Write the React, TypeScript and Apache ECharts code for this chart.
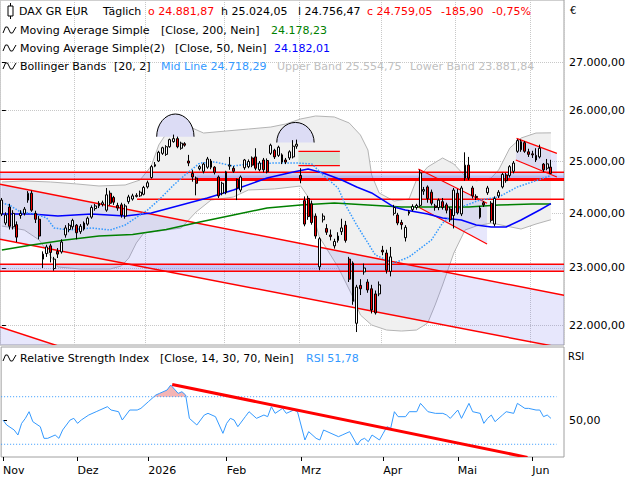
import React, { useEffect, useRef } from "react";
import * as echarts from "echarts";

// ---------- trading days (x categories) ----------
const NOV_2025 = [3, 4, 5, 6, 7, 10, 11, 12, 13, 14, 17, 18, 19, 20, 21, 24, 25, 26, 27, 28];
const DEC_2025 = [1, 2, 3, 4, 5, 8, 9, 10, 11, 12, 15, 16, 17, 18, 19, 22, 23, 29, 30];
const JAN_2026 = [2, 5, 6, 7, 8, 9, 12, 13, 14, 15, 16, 19, 20, 21, 22, 23, 26, 27, 28, 29, 30];
const FEB_2026 = [2, 3, 4, 5, 6, 9, 10, 11, 12, 13, 16, 17, 18, 19, 20, 23, 24, 25, 26, 27];
const MAR_2026 = [2, 3, 4, 5, 6, 9, 10, 11, 12, 13, 16, 17, 18, 19, 20, 23, 24, 25, 26, 27, 30, 31];
const APR_2026 = [1, 2, 7, 8, 9, 10, 13, 14, 15, 16, 17, 20, 21, 22, 23, 24, 27, 28, 29, 30];
const MAY_2026 = [4, 5, 6, 7, 8, 11, 12, 13, 14, 15, 18, 19, 20, 21, 22, 25, 26, 27, 28, 29];
const JUN_2026 = [1, 2, 3, 4, 5, 8, 9, 10, 11];
const MONTHS = [
  { y: 2025, m: 11, days: NOV_2025, label: "Nov" },
  { y: 2025, m: 12, days: DEC_2025, label: "Dez" },
  { y: 2026, m: 1, days: JAN_2026, label: "2026" },
  { y: 2026, m: 2, days: FEB_2026, label: "Feb" },
  { y: 2026, m: 3, days: MAR_2026, label: "Mrz" },
  { y: 2026, m: 4, days: APR_2026, label: "Apr" },
  { y: 2026, m: 5, days: MAY_2026, label: "Mai" },
  { y: 2026, m: 6, days: JUN_2026, label: "Jun" },
];

// ---------- daily candles [open, close, low, high] ----------
const OHLC: number[][] = [
  [23990, 24250, 23950, 24290], [23820, 23970, 23780, 24020], [24120, 23760, 23700, 24180], [23750, 24000, 23700, 24060],
  [23790, 23560, 23470, 23850], [23960, 24000, 23900, 24060], [24000, 24080, 23960, 24120], [24250, 24380, 24200, 24420],
  [24380, 24060, 24030, 24430], [24000, 23890, 23820, 24050], [23890, 23580, 23520, 23950], [23250, 23160, 23000, 23300],
  [23260, 23380, 23200, 23420], [23400, 23280, 23100, 23440], [22990, 23160, 22950, 23200], [23300, 23250, 23180, 23360],
  [23290, 23470, 23260, 23520], [23600, 23730, 23550, 23780], [23700, 23780, 23650, 23820], [23750, 23870, 23700, 23900],
  [23780, 23640, 23520, 23800], [23660, 23760, 23620, 23800], [23820, 23710, 23680, 23850], [23800, 23910, 23770, 23940],
  [23930, 24110, 23900, 24150], [24090, 24140, 24050, 24180], [24140, 24190, 24100, 24230], [24170, 24200, 24130, 24240],
  [24060, 24350, 24030, 24480], [24380, 24190, 24150, 24430], [24300, 24210, 24160, 24330], [24150, 24100, 24050, 24200],
  [24160, 23970, 23920, 24200], [23950, 24140, 23900, 24180], [24220, 24310, 24180, 24350], [24270, 24330, 24240, 24370],
  [24320, 24340, 24300, 24380], [24330, 24400, 24310, 24430], [24360, 24490, 24340, 24520], [24500, 24580, 24470, 24620],
  [24680, 24890, 24660, 24920], [24900, 24930, 24880, 24980], [25000, 25170, 24980, 25200], [25150, 25260, 25120, 25280],
  [25130, 25280, 25100, 25310], [25280, 25420, 25260, 25440], [25380, 25440, 25360, 25520], [25440, 25280, 25250, 25480],
  [25250, 25350, 25220, 25380], [25340, 25310, 25280, 25370], [25000, 24960, 24900, 25120], [24760, 24690, 24600, 24825],
  [24670, 24570, 24340, 24700], [24850, 24890, 24820, 24920], [24800, 24940, 24760, 24970], [24880, 25040, 24850, 25080],
  [25000, 24880, 24840, 25040], [24880, 24780, 24740, 24900], [24690, 24330, 24290, 24720], [24380, 24570, 24340, 24600],
  [24390, 24790, 24360, 24810], [24900, 24920, 24830, 25080], [24860, 24800, 24770, 24900], [24640, 24480, 24250, 24660],
  [24440, 24690, 24400, 24720], [24870, 25020, 24830, 25040], [24890, 24990, 24860, 25030], [25060, 24920, 24880, 25090],
  [25080, 24860, 24820, 25250], [24830, 24960, 24800, 25000], [25020, 24830, 24780, 25060], [25010, 24790, 24760, 25050],
  [25150, 25310, 25120, 25340], [25210, 25080, 25040, 25240], [25110, 25270, 25080, 25300], [25120, 24980, 24940, 25150],
  [25020, 24980, 24940, 25060], [25060, 25180, 25020, 25210], [25080, 25290, 25050, 25410], [25290, 25330, 25240, 25420],
  [24720, 24650, 24570, 24860], [24240, 23800, 23760, 24320], [24280, 23940, 23880, 24330], [24180, 23830, 23790, 24240],
  [23950, 23580, 23530, 24000], [23020, 23530, 22960, 23560], [23880, 23950, 23830, 24000], [23720, 23650, 23600, 23800],
  [23600, 23570, 23500, 23700], [23400, 23480, 23350, 23530], [23500, 23580, 23460, 23650], [23660, 23730, 23600, 23900],
  [23780, 23500, 23460, 23860], [23160, 22800, 22750, 23200], [23090, 22410, 22350, 23120], [22030, 22660, 21880, 22700],
  [22690, 22630, 22520, 22800], [22930, 23000, 22880, 23080], [22750, 22610, 22560, 22800], [22630, 22260, 22200, 22700],
  [22540, 22210, 22180, 22600], [22540, 22700, 22500, 22760], [23320, 23290, 23230, 23400], [23270, 22960, 22900, 23330],
  [22940, 23200, 22850, 23380], [24000, 24110, 23960, 24160], [23970, 23820, 23780, 24010], [23830, 23790, 23700, 23880],
  [23550, 23740, 23480, 23780], [24000, 24030, 23960, 24060], [24070, 24130, 24040, 24170], [24110, 24150, 24070, 24180],
  [24150, 24770, 24120, 24830], [24420, 24450, 24350, 24500], [24500, 24280, 24200, 24530], [24400, 24190, 24150, 24450],
  [24140, 24110, 24050, 24180], [24110, 24250, 24060, 24280], [24220, 24110, 24070, 24290], [24160, 24060, 24000, 24200],
  [24080, 23880, 23840, 24120], [23960, 24440, 23720, 24480], [24380, 24010, 23980, 24460], [23990, 24480, 23950, 24520],
  [24670, 24920, 24620, 25170], [24920, 24670, 24630, 25080], [24480, 24330, 24280, 24520], [24320, 24300, 24250, 24360],
  [24100, 23930, 23900, 24140], [24200, 24160, 24120, 24230], [24390, 24480, 24350, 24520], [24190, 23870, 23830, 24230],
  [23800, 24280, 23760, 24320], [24330, 24400, 24290, 24440], [24500, 24740, 24470, 24770], [24730, 24620, 24580, 24770],
  [24720, 24890, 24680, 24920], [24800, 24960, 24760, 25000], [25190, 25400, 25160, 25430], [25380, 25220, 25180, 25420],
  [25360, 25190, 25160, 25390], [25180, 25130, 25080, 25240], [25140, 25120, 25060, 25200], [25110, 25020, 24980, 25250],
  [25080, 25250, 25050, 25320], [24940, 24830, 24790, 24960], [24860, 24944.95, 24820, 25040], [24881.87, 24759.05, 24756.47, 25024.05],
];

// ---------- indicators [day index, value] ----------
const SMA200 = [[0, 23324], [8, 23416], [17, 23507], [26, 23581], [35, 23610], [44, 23700], [53, 23840], [62, 23970], [71, 24101], [80, 24157], [89, 24195], [98, 24157], [107, 24119], [116, 24119], [125, 24119], [133, 24157], [142, 24176], [147, 24178.23]];
const SMA50 = [[0, 23989], [8, 23989], [15, 23951], [24, 23989], [33, 23951], [40, 24007], [48, 24157], [55, 24289], [62, 24442], [71, 24671], [78, 24787], [82, 24845], [86, 24768], [91, 24633], [95, 24499], [99, 24385], [105, 24119], [108, 24063], [114, 23989], [118, 23914], [123, 23877], [127, 23783], [131, 23746], [135, 23746], [139, 23877], [144, 24063], [147, 24182.01]];
const BB_MID = [[0, 24195], [2, 24157], [5, 24026], [9, 23989], [12, 23914], [14, 23728], [18, 23691], [24, 23728], [29, 23691], [33, 23783], [39, 24063], [42, 24251], [46, 24537], [49, 24729], [53, 24961], [57, 24981], [62, 24903], [66, 24942], [73, 24961], [79, 24961], [83, 24942], [86, 24729], [90, 24480], [92, 24157], [95, 23783], [98, 23453], [100, 23234], [105, 23089], [109, 23198], [115, 23507], [118, 23821], [123, 24119], [128, 24251], [133, 24308], [138, 24499], [142, 24595], [147, 24718.29]];
const BB_UPPER = [[0, 24595], [6, 24614], [13, 24595], [20, 24557], [26, 24518], [33, 24537], [37, 24633], [40, 24903], [42, 25314], [45, 25651], [48, 25752], [51, 25651], [54, 25551], [60, 25591], [66, 25631], [72, 25671], [76, 25732], [80, 25833], [84, 25893], [89, 25873], [93, 25752], [96, 25512], [98, 25215], [99, 24729], [101, 24385], [105, 24232], [109, 24270], [111, 24633], [114, 24884], [118, 25059], [121, 24942], [124, 24710], [127, 24614], [131, 24671], [133, 24826], [136, 25255], [139, 25452], [143, 25551], [147, 25554.75]];
const BB_LOWER = [[0, 23765], [6, 23691], [10, 23507], [13, 23216], [15, 23018], [21, 22982], [29, 22982], [32, 23036], [34, 23180], [36, 23453], [38, 23636], [42, 23672], [48, 23728], [52, 24026], [56, 24251], [62, 24308], [66, 24442], [73, 24461], [80, 24518], [82, 24308], [85, 23562], [90, 23018], [94, 22486], [96, 22172], [99, 22000], [103, 21914], [107, 21897], [111, 21914], [114, 22034], [116, 22346], [118, 22697], [121, 23270], [124, 23691], [127, 23765], [131, 23821], [135, 23765], [139, 23709], [143, 23802], [147, 23881.84]];
const RSI14 = [[0, 50.4], [1, 46.2], [3, 42.0], [4, 37.8], [5, 47.6], [6, 51.8], [7, 57.4], [8, 49.0], [10, 44.8], [11, 35.0], [12, 35.0], [14, 37.8], [15, 35.0], [16, 42.0], [18, 50.4], [19, 51.8], [20, 47.6], [21, 50.4], [23, 54.6], [25, 57.4], [26, 58.8], [28, 61.6], [29, 58.8], [31, 57.4], [32, 50.4], [34, 58.8], [36, 58.8], [37, 60.2], [39, 65.8], [41, 71.4], [42, 72.8], [44, 75.6], [45, 79.8], [47, 72.8], [48, 74.2], [49, 71.4], [50, 51.8], [52, 46.2], [54, 54.6], [55, 56.0], [57, 53.2], [59, 39.2], [60, 47.6], [61, 51.8], [62, 50.4], [63, 44.8], [65, 53.2], [66, 57.4], [68, 51.8], [70, 54.6], [71, 53.2], [72, 61.6], [73, 56.0], [75, 60.2], [76, 56.0], [78, 58.8], [79, 57.4], [81, 33.6], [82, 40.6], [84, 35.0], [85, 33.6], [86, 42.0], [88, 39.2], [90, 36.4], [91, 37.8], [93, 40.6], [95, 29.4], [96, 33.6], [97, 35.0], [98, 32.2], [99, 37.8], [101, 33.6], [102, 39.2], [103, 44.8], [104, 43.4], [105, 57.4], [106, 53.2], [108, 53.2], [109, 57.4], [111, 57.4], [112, 64.4], [114, 57.4], [116, 56.0], [118, 56.0], [119, 54.6], [120, 51.8], [122, 58.8], [123, 51.8], [125, 64.4], [126, 57.4], [128, 56.0], [129, 47.6], [130, 51.8], [131, 54.6], [132, 49.0], [134, 54.6], [135, 57.4], [137, 56.0], [138, 64.4], [140, 60.2], [141, 60.2], [143, 58.8], [144, 58.8], [145, 53.2], [146, 54.6], [147, 51.78]];

// ---------- drawings (day index, price) ----------
const CHANNEL_MAIN_UPPER = [[-0.5, 24550], [150.5, 22514]];
const CHANNEL_MAIN_LOWER = [[-0.5, 23520], [150.5, 21606]];
const CHANNEL_OLD_LINE = [[-0.5, 21966], [16.5, 21614]];
const CHANNEL_APR_UPPER = [[111.5, 24845], [129.9, 24189]];
const CHANNEL_APR_LOWER = [[111.5, 24119], [129.9, 23434]];
const FLAG_UPPER = [[137.8, 25446], [148.6, 25150]];
const FLAG_LOWER = [[137.6, 25019], [148.6, 24690]];
const ZONES = [
  { from: -0.5, to: 150.5, top: 24781, bottom: 24646 },
  { from: -0.5, to: 150.5, top: 23066, bottom: 22941 },
];
const ZONE_STRONG = { from: 52.2, to: 150.5, top: 24719, bottom: 24640 };
const LEVEL_LINE = { from: 36.2, to: 150.5, price: 24265 };
const GREEN_BOX = { from: 79.4, to: 90.5, top: 25190, bottom: 24912 };
const DOMES = [
  { from: 41.45, to: 51.44, base: 25478, top: 25933 },
  { from: 73.6, to: 83.6, base: 25363, top: 25762 },
];
const RSI_TREND = [[45.4, 80.3], [140.7, 19.0]];
const RSI_LEVELS = [70, 30];
const PRICE_TICKS = [22000, 23000, 24000, 25000, 26000, 27000];
const RSI_TICKS = [50];

// ---------- helpers ----------
const T = (p: number) => Math.log(p);
const ID = (v: number) => v;
const pad = (n: number) => (n < 10 ? "0" + n : "" + n);
function de(v: number) {
  const s = v.toFixed(2);
  const [i, d] = s.split(".");
  return i.replace(/\B(?=(\d{3})+(?!\d))/g, ".") + "," + d;
}

const categories: string[] = [];
const monthStart: Record<number, string> = {};
MONTHS.forEach((mo) => {
  monthStart[categories.length] = mo.label;
  mo.days.forEach((d) => categories.push(`${mo.y}-${pad(mo.m)}-${pad(d)}`));
});
const N = categories.length;
const isMonthStart = (idx: number) => monthStart[idx] !== undefined;

const FONT = "DejaVu Sans";
const LAV = "rgba(110,110,235,0.17)";
const LAV2 = "rgba(110,110,235,0.24)";
const RED = "#ff0000";

type Shape = { kind: string; pts: number[][]; fill?: string; stroke?: string; lw?: number; dash?: number[] };

function customSeries(shapes: Shape[], xAxisIndex: number, yAxisIndex: number, z: number, yT: (v: number) => number) {
  return {
    type: "custom",
    xAxisIndex,
    yAxisIndex,
    z,
    clip: true,
    silent: true,
    data: shapes.map((s) => [s.pts[0][0], yT(s.pts[0][1])]),
    renderItem: (params: any, api: any) => {
      const s = shapes[params.dataIndex];
      const pts = s.pts.map(([x, v]) => api.coord([x, yT(v)]));
      if (s.kind === "poly") {
        return { type: "polygon", shape: { points: pts }, style: { fill: s.fill, stroke: null } };
      }
      if (s.kind === "dome") {
        const [a, b, c] = pts;
        const rx = (b[0] - a[0]) / 2;
        const ry = a[1] - c[1];
        const arc = `M ${a[0]} ${a[1]} A ${rx} ${ry} 0 0 1 ${b[0]} ${b[1]}`;
        return {
          type: "group",
          children: [
            { type: "path", shape: { pathData: arc + " Z" }, style: { fill: s.fill, stroke: null } },
            { type: "path", shape: { pathData: arc }, style: { fill: null, stroke: s.stroke, lineWidth: s.lw } },
          ],
        };
      }
      return {
        type: "polyline",
        shape: { points: pts },
        style: { fill: null, stroke: s.stroke, lineWidth: s.lw || 1, lineDash: s.dash || null },
      };
    },
  };
}

const box = (from: number, to: number, top: number, bottom: number) => [[from, top], [to, top], [to, bottom], [from, bottom]];
const hline = (from: number, to: number, p: number) => [[from, p], [to, p]];

export default function App() {
  const ref = useRef<HTMLDivElement>(null);
  useEffect(() => {
    if (!ref.current) return;
    const chart = echarts.init(ref.current, null, { renderer: "svg" });

    const bbPoly = [...BB_UPPER, ...[...BB_LOWER].reverse()];

    const fills: Shape[] = [
      { kind: "poly", pts: [CHANNEL_MAIN_UPPER[0], CHANNEL_MAIN_UPPER[1], CHANNEL_MAIN_LOWER[1], CHANNEL_MAIN_LOWER[0]], fill: LAV },
      { kind: "poly", pts: [CHANNEL_OLD_LINE[0], CHANNEL_OLD_LINE[1], [CHANNEL_OLD_LINE[1][0], 20000], [CHANNEL_OLD_LINE[0][0], 20000]], fill: LAV },
      ...ZONES.map((zn) => ({ kind: "poly", pts: box(zn.from, zn.to, zn.top, zn.bottom), fill: LAV2 })),
      { kind: "poly", pts: box(ZONE_STRONG.from, ZONE_STRONG.to, ZONE_STRONG.top, ZONE_STRONG.bottom), fill: LAV2 },
      { kind: "poly", pts: [CHANNEL_APR_UPPER[0], CHANNEL_APR_UPPER[1], CHANNEL_APR_LOWER[1], CHANNEL_APR_LOWER[0]], fill: LAV },
      { kind: "poly", pts: [FLAG_UPPER[0], FLAG_UPPER[1], FLAG_LOWER[1], FLAG_LOWER[0]], fill: LAV },
      { kind: "poly", pts: box(GREEN_BOX.from, GREEN_BOX.to, GREEN_BOX.top, GREEN_BOX.bottom), fill: "#d5e3d5" },
      ...DOMES.map((d) => ({
        kind: "dome",
        pts: [[d.from, d.base], [d.to, d.base], [(d.from + d.to) / 2, d.top]],
        fill: "#dcdcf5",
        stroke: "#000000",
        lw: 1,
      })),
    ];

    const redLines: Shape[] = [
      { kind: "line", pts: CHANNEL_MAIN_UPPER, stroke: RED, lw: 1.5 },
      { kind: "line", pts: CHANNEL_MAIN_LOWER, stroke: RED, lw: 1.5 },
      { kind: "line", pts: CHANNEL_OLD_LINE, stroke: RED, lw: 1.5 },
      ...ZONES.flatMap((zn) => [
        { kind: "line", pts: hline(zn.from, zn.to, zn.top), stroke: RED, lw: 1.5 },
        { kind: "line", pts: hline(zn.from, zn.to, zn.bottom), stroke: RED, lw: 1.5 },
      ]),
      { kind: "line", pts: hline(ZONE_STRONG.from, ZONE_STRONG.to, ZONE_STRONG.bottom), stroke: RED, lw: 3 },
      { kind: "line", pts: hline(LEVEL_LINE.from, LEVEL_LINE.to, LEVEL_LINE.price), stroke: RED, lw: 1.5 },
      { kind: "line", pts: CHANNEL_APR_UPPER, stroke: RED, lw: 1.2 },
      { kind: "line", pts: CHANNEL_APR_LOWER, stroke: RED, lw: 1.2 },
      { kind: "line", pts: FLAG_UPPER, stroke: RED, lw: 1.2 },
      { kind: "line", pts: FLAG_LOWER, stroke: RED, lw: 1.2 },
      { kind: "line", pts: hline(GREEN_BOX.from, GREEN_BOX.to, GREEN_BOX.top), stroke: RED, lw: 1.2 },
      { kind: "line", pts: hline(GREEN_BOX.from, GREEN_BOX.to, GREEN_BOX.bottom), stroke: RED, lw: 1.2 },
    ];

    // RSI overbought fill
    const pink: number[][] = [];
    for (let k = 1; k < RSI14.length; k++) {
      const [x0, v0] = RSI14[k - 1];
      const [x1, v1] = RSI14[k];
      if (v0 < 70 && v1 >= 70) pink.push([x0 + ((70 - v0) / (v1 - v0)) * (x1 - x0), 70]);
      if (v1 >= 70) pink.push([x1, v1]);
      if (v0 >= 70 && v1 < 70) pink.push([x0 + ((v0 - 70) / (v0 - v1)) * (x1 - x0), 70]);
    }

    const rsiShapes: Shape[] = [
      { kind: "poly", pts: pink, fill: "#f4b4b4" },
      ...RSI_LEVELS.map((lv) => ({ kind: "line", pts: [[-0.5, lv], [148.5, lv]], stroke: "#3399ff", lw: 1, dash: [1, 2] })),
    ];

    const lineS = (data: number[][], color: string, width: number, z: number, type = "solid") => ({
      type: "line",
      xAxisIndex: 0,
      yAxisIndex: 0,
      z,
      data: data.map(([i, p]) => [i, T(p)]),
      showSymbol: false,
      symbol: "none",
      silent: true,
      lineStyle: { color, width, type },
    });

    const txt = (x: number, y: number, text: string, fill = "#000000", size = 11) => ({
      type: "text",
      x,
      y,
      z: 100,
      style: { text, fill, fontSize: size, fontFamily: FONT, verticalAlign: "middle" },
    });
    const wave = (y: number) => ({
      type: "polyline",
      z: 100,
      shape: { points: [[3, y + 3], [5.5, y - 3], [7.5, y - 3], [10.5, y + 3], [12.5, y + 3], [16, y - 3]] },
      style: { stroke: "#000", lineWidth: 1, fill: null },
    });

    const option: any = {
      animation: false,
      backgroundColor: "#ffffff",
      textStyle: { fontFamily: FONT },
      grid: [
        { left: 0, right: 76, top: 0, height: 345, show: true, borderColor: "#a0a0a0", borderWidth: 1, backgroundColor: "#ffffff" },
        { left: 0, right: 76, top: 347, bottom: 23, show: true, borderColor: "#a0a0a0", borderWidth: 1, backgroundColor: "#ffffff" },
      ],
      xAxis: [
        {
          type: "category", gridIndex: 0, data: categories, boundaryGap: true,
          axisLine: { show: false }, axisTick: { show: false }, axisLabel: { show: false },
          splitLine: { show: true, interval: (i: number) => isMonthStart(i), lineStyle: { color: "#c8c8c8", type: "dotted" } },
        },
        { type: "value", gridIndex: 0, min: -0.5, max: N - 0.5, show: false },
        {
          type: "category", gridIndex: 1, data: categories, boundaryGap: true,
          axisLine: { show: false },
          axisTick: { show: true, alignWithLabel: true, interval: (i: number) => isMonthStart(i), length: 4, lineStyle: { color: "#000" } },
          axisLabel: {
            show: true, interval: (i: number) => isMonthStart(i), align: "left", margin: 8,
            formatter: (_v: string, i: number) => monthStart[i] || "", color: "#000", fontSize: 11, fontFamily: FONT,
          },
          splitLine: { show: false },
        },
        { type: "value", gridIndex: 1, min: -0.5, max: N - 0.5, show: false },
      ],
      yAxis: [
        {
          type: "value", gridIndex: 0, position: "right", min: T(21660), max: T(28343), scale: true,
          axisLine: { show: false },
          axisTick: { show: true, customValues: PRICE_TICKS.map(T), length: 4, lineStyle: { color: "#000" } },
          axisLabel: {
            show: true, customValues: PRICE_TICKS.map(T), margin: 5, color: "#000", fontSize: 11, fontFamily: FONT,
            formatter: (v: number) => de(Math.round(Math.exp(v))),
          },
          splitLine: { show: true, lineStyle: { color: "#c8c8c8", type: "dotted" } },
        },
        {
          type: "value", gridIndex: 1, position: "right", min: 19.3, max: 111.8,
          axisLine: { show: false },
          axisTick: { show: true, customValues: RSI_TICKS, length: 4, lineStyle: { color: "#000" } },
          axisLabel: { show: true, customValues: RSI_TICKS, margin: 5, color: "#000", fontSize: 11, fontFamily: FONT, formatter: (v: number) => de(v) },
          splitLine: { show: false },
        },
      ],
      series: [
        customSeries([{ kind: "poly", pts: bbPoly, fill: "#f0f0f0" }], 1, 0, 1, T),
        lineS(BB_UPPER, "#b4b4b4", 1, 2),
        lineS(BB_LOWER, "#b4b4b4", 1, 2),
        customSeries(fills, 1, 0, 3, T),
        customSeries(redLines, 1, 0, 4, T),
        lineS(SMA200, "#008000", 1.5, 5),
        lineS(SMA50, "#0000ff", 1.5, 5),
        lineS(BB_MID, "#3399ff", 1.5, 5, "dotted"),
        {
          type: "candlestick", xAxisIndex: 0, yAxisIndex: 0, z: 6, silent: true,
          barWidth: 2.4,
          data: OHLC.map((c) => c.map(T)),
          itemStyle: { color: "#ffffff", color0: "#ee0000", borderColor: "#000000", borderColor0: "#000000", borderWidth: 1 },
        },
        customSeries(rsiShapes, 3, 1, 2, ID),
        {
          type: "line", xAxisIndex: 2, yAxisIndex: 1, z: 5, silent: true,
          data: RSI14, showSymbol: false, symbol: "none",
          lineStyle: { color: "#3399ff", width: 1 },
        },
        customSeries([{ kind: "line", pts: RSI_TREND, stroke: RED, lw: 3 }], 3, 1, 6, ID),
      ],
      graphic: {
        elements: [
          { type: "rect", z: 100, shape: { x: 8, y: 6, width: 5, height: 10 }, style: { fill: "#fff", stroke: "#000", lineWidth: 1 } },
          { type: "line", z: 100, shape: { x1: 10.5, y1: 3, x2: 10.5, y2: 6 }, style: { stroke: "#000", lineWidth: 1 } },
          { type: "line", z: 100, shape: { x1: 10.5, y1: 16, x2: 10.5, y2: 19 }, style: { stroke: "#000", lineWidth: 1 } },
          txt(19, 11, "DAX GR EUR"),
          txt(103, 11, "Täglich"),
          txt(148, 11, "o 24.881,87", RED),
          txt(221, 11, "h 25.024,05"),
          txt(298, 11, "l 24.756,47"),
          txt(367, 11, "c 24.759,05", RED),
          txt(441, 11, "-185,90", RED),
          txt(492, 11, "-0,75%", RED),
          wave(30),
          txt(20, 30, "Moving Average Simple"),
          txt(161, 30, "[Close, 200, Nein]"),
          txt(271, 30, "24.178,23", "#008000"),
          wave(48),
          txt(20, 48, "Moving Average Simple(2)"),
          txt(175, 48, "[Close, 50, Nein]"),
          txt(274, 48, "24.182,01", "#0000ff"),
          wave(66),
          txt(20, 66, "Bollinger Bands"),
          txt(114, 66, "[20, 2]"),
          txt(161, 66, "Mid Line 24.718,29", "#3399ff"),
          txt(277, 66, "Upper Band 25.554,75", "#c0c0c0"),
          txt(410, 66, "Lower Band 23.881,84", "#c0c0c0"),
          wave(358),
          txt(20, 358, "Relative Strength Index"),
          txt(160, 358, "[Close, 14, 30, 70, Nein]"),
          txt(306, 358, "RSI 51,78", "#3399ff"),
          txt(570, 10, "€", "#000", 10),
          txt(568, 356, "RSI", "#000", 10),
        ],
      },
    };
    chart.setOption(option);
    return () => chart.dispose();
  }, []);
  return <div ref={ref} style={{ position: "absolute", left: 0, top: 0, width: 640, height: 480, background: "#fff" }} />;
}
